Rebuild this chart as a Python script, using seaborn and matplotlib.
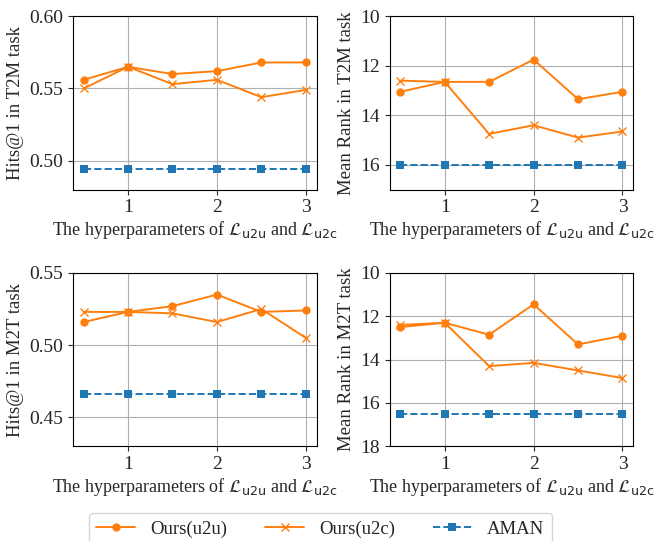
import numpy as np
import pandas as pd
import matplotlib
matplotlib.use("Agg")
import matplotlib.pyplot as plt
import seaborn as sns

# hyperparameter values on the x axis
params = [0.5, 1.0, 1.5, 2.0, 2.5, 3.0]

# T2M task
t2m_hits_u2u = [0.556, 0.565, 0.560, 0.562, 0.568, 0.568]
t2m_hits_u2c = [0.550, 0.565, 0.553, 0.556, 0.544, 0.549]
t2m_hits_aman = [0.494, 0.494, 0.494, 0.494, 0.494, 0.494]
t2m_rank_u2u = [13.05, 12.65, 12.65, 11.75, 13.35, 13.05]
t2m_rank_u2c = [12.6, 12.65, 14.75, 14.4, 14.9, 14.65]
t2m_rank_aman = [16.0, 16.0, 16.0, 16.0, 16.0, 16.0]

# M2T task
m2t_hits_u2u = [0.516, 0.523, 0.527, 0.535, 0.523, 0.524]
m2t_hits_u2c = [0.523, 0.523, 0.522, 0.516, 0.525, 0.505]
m2t_hits_aman = [0.466, 0.466, 0.466, 0.466, 0.466, 0.466]
m2t_rank_u2u = [12.5, 12.3, 12.85, 11.45, 13.3, 12.9]
m2t_rank_u2c = [12.4, 12.3, 14.3, 14.15, 14.5, 14.85]
m2t_rank_aman = [16.5, 16.5, 16.5, 16.5, 16.5, 16.5]

sns.set_style("ticks")
plt.rcParams["font.family"] = ["Liberation Serif", "DejaVu Serif"]
plt.rcParams["font.size"] = 14
plt.rcParams["mathtext.fontset"] = "dejavusans"

orange = "#ff7f0e"
blue = "#1f77b4"
xlabel = r"The hyperparameters of $\mathcal{L}_{\mathsf{u2u}}$ and $\mathcal{L}_{\mathsf{u2c}}$"


def draw(ax, u2u, u2c, aman, ylabel, ylim, yticks, invert=False):
    sns.lineplot(x=params, y=u2u, ax=ax, color=orange, marker="o", markersize=6,
                 markeredgewidth=0, linewidth=1.4, label="Ours(u2u)", legend=False)
    sns.lineplot(x=params, y=u2c, ax=ax, color=orange, marker="x", markersize=5.5,
                 markeredgecolor=orange, markeredgewidth=1.0, linewidth=1.4,
                 label="Ours(u2c)", legend=False)
    sns.lineplot(x=params, y=aman, ax=ax, color=blue, marker="s", markersize=5.5,
                 markeredgewidth=0, linewidth=1.4, linestyle="--", label="AMAN", legend=False)
    ax.set_xlim(0.38, 3.12)
    ax.set_xticks([1, 2, 3])
    ax.set_yticks(yticks)
    ax.set_ylim(ylim)
    if invert:
        ax.invert_yaxis()
    ax.grid(True, color="#b0b0b0", linewidth=0.8)
    ax.set_xlabel(xlabel, labelpad=2, fontsize=13)
    ax.set_ylabel(ylabel, fontsize=13.5)
    for s in ax.spines.values():
        s.set_visible(True)
        s.set_color("black")


fig, axes = plt.subplots(2, 2, figsize=(6.63, 5.41), dpi=100)

draw(axes[0, 0], t2m_hits_u2u, t2m_hits_u2c, t2m_hits_aman,
     "Hits@1 in T2M task", (0.48, 0.60), [0.50, 0.55, 0.60])
axes[0, 0].yaxis.set_major_formatter(matplotlib.ticker.FormatStrFormatter("%.2f"))
draw(axes[0, 1], t2m_rank_u2u, t2m_rank_u2c, t2m_rank_aman,
     "Mean Rank in T2M task", (10, 17), [10, 12, 14, 16], invert=True)
draw(axes[1, 0], m2t_hits_u2u, m2t_hits_u2c, m2t_hits_aman,
     "Hits@1 in M2T task", (0.43, 0.55), [0.45, 0.50, 0.55])
axes[1, 0].yaxis.set_major_formatter(matplotlib.ticker.FormatStrFormatter("%.2f"))
draw(axes[1, 1], m2t_rank_u2u, m2t_rank_u2c, m2t_rank_aman,
     "Mean Rank in M2T task", (10, 18), [10, 12, 14, 16, 18], invert=True)

handles, labels = axes[0, 0].get_legend_handles_labels()
fig.legend(handles, labels, loc="lower center", ncol=3, bbox_to_anchor=(0.483, -0.025),
           frameon=True, columnspacing=2.0, handlelength=2.1, handletextpad=0.8,
           fontsize=13.5)

fig.subplots_adjust(left=0.11, right=0.955, top=0.97, bottom=0.175,
                    wspace=0.30, hspace=0.48)
fig.savefig("out.png", dpi=100)
